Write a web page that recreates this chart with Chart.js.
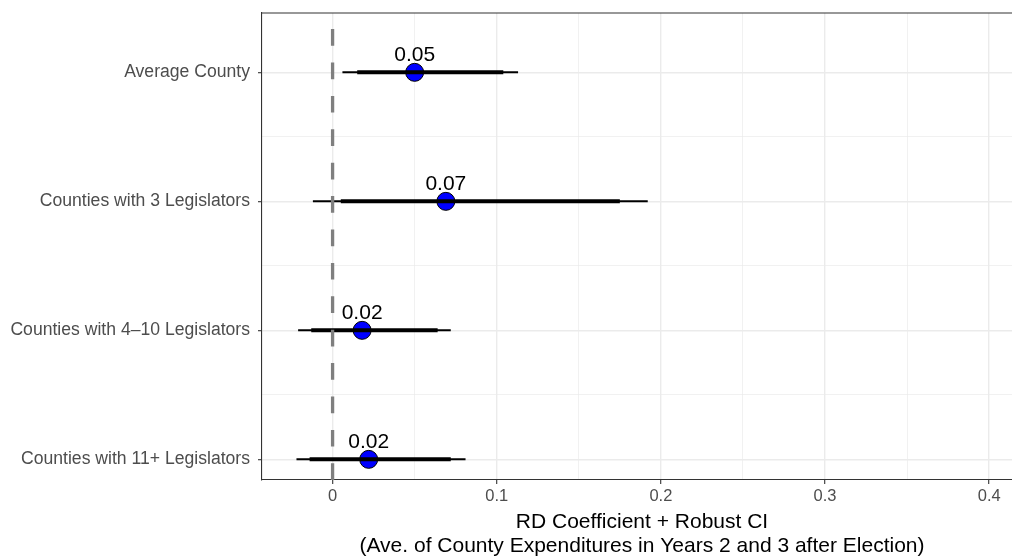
<!DOCTYPE html>
<html>
<head>
<meta charset="utf-8">
<script src="https://cdn.jsdelivr.net/npm/chart.js@4.4.1/dist/chart.umd.min.js"></script>
<style>
  html, body { margin: 0; padding: 0; background: #fff; overflow: hidden; }
  #wrap { width: 1012px; height: 556px; overflow: hidden; position: relative; }
  #chart { position: absolute; left: 0; top: 0; width: 1022px; height: 556px; }
</style>
</head>
<body>
<!-- the panel runs a little past the right edge of the picture, as in the original -->
<div id="wrap"><canvas id="chart" width="1022" height="556"></canvas></div>
<script>
// rows, top to bottom
const categories = [
  "Average County",
  "Counties with 3 Legislators",
  "Counties with 4\u201310 Legislators",
  "Counties with 11+ Legislators"
];
const estimate   = [0.050, 0.069, 0.018, 0.022];
const thickLow   = [0.015, 0.005, -0.013, -0.014];
const thickHigh  = [0.104, 0.175, 0.064, 0.072];
const thinLow    = [0.006, -0.012, -0.021, -0.022];
const thinHigh   = [0.113, 0.192, 0.072, 0.081];
const xGrid      = [0, 0.05, 0.1, 0.15, 0.2, 0.25, 0.3, 0.35, 0.4];
const yGrid      = [1, 1.5, 2, 2.5, 3, 3.5, 4];

const X_MIN = -0.043, X_MAX = 0.42;
const Y_MIN = 0.54, Y_MAX = 4.16;
const FONT = "'Liberation Sans', Arial, sans-serif";

const isMajorX = v => Math.abs(v * 10 - Math.round(v * 10)) < 1e-9;
const isMajorY = v => Math.abs(v - Math.round(v)) < 1e-9;

// value labels above the points
const valueLabels = {
  id: "valueLabels",
  afterDatasetsDraw(chart) {
    const { ctx, scales: { x, y } } = chart;
    ctx.save();
    ctx.font = "21px " + FONT;
    ctx.fillStyle = "#000";
    ctx.textAlign = "center";
    ctx.textBaseline = "alphabetic";
    estimate.forEach((v, i) => {
      ctx.fillText(v.toFixed(2), x.getPixelForValue(v), y.getPixelForValue(i + 1) - 11);
    });
    ctx.restore();
  }
};

// top edge of the panel border
const frame = {
  id: "frame",
  afterDraw(chart) {
    const { ctx, chartArea: a } = chart;
    ctx.save();
    ctx.strokeStyle = "#333";
    ctx.lineWidth = 1.1;
    ctx.beginPath();
    ctx.moveTo(a.left, a.top);
    ctx.lineTo(a.right, a.top);
    ctx.stroke();
    ctx.restore();
  }
};

const datasets = [];
datasets.push({
  data: [{ x: 0, y: Y_MAX }, { x: 0, y: Y_MIN }],
  showLine: true, borderColor: "#7f7f7f", borderWidth: 3.3,
  borderDash: [16.7, 16.7], pointRadius: 0
});
categories.forEach((c, i) => {
  datasets.push({
    data: [{ x: thinLow[i], y: i + 1 }, { x: thinHigh[i], y: i + 1 }],
    showLine: true, borderColor: "#000", borderWidth: 2, pointRadius: 0
  });
});
categories.forEach((c, i) => {
  datasets.push({
    data: [{ x: thickLow[i], y: i + 1 }, { x: thickHigh[i], y: i + 1 }],
    showLine: true, borderColor: "#000", borderWidth: 4, pointRadius: 0
  });
});
datasets.push({
  data: estimate.map((v, i) => ({ x: v, y: i + 1 })),
  showLine: false, pointRadius: 9, pointBackgroundColor: "#0000ff",
  pointBorderColor: "#000", pointBorderWidth: 1
});

new Chart(document.getElementById("chart"), {
  type: "scatter",
  data: { datasets },
  options: {
    responsive: false,
    animation: false,
    events: [],
    layout: { autoPadding: false, padding: { top: 13, left: 0, right: 0, bottom: 0 } },
    plugins: { legend: { display: false }, tooltip: { enabled: false } },
    scales: {
      x: {
        type: "linear", min: X_MIN, max: X_MAX,
        afterBuildTicks: s => { s.ticks = xGrid.map(v => ({ value: v })); },
        afterFit: s => { s.height = 76; },
        ticks: {
          autoSkip: false, maxRotation: 0, padding: 3,
          color: "#4d4d4d", font: { family: FONT, size: 16.5 },
          callback: v => isMajorX(v) ? String(+v.toFixed(1)) : ""
        },
        grid: {
          color: "#ebebeb",
          lineWidth: c => isMajorX(c.tick.value) ? 1.4 : 0.7,
          tickColor: c => isMajorX(c.tick.value) ? "#333" : "rgba(0,0,0,0)",
          tickWidth: 1.1, tickLength: 4
        },
        border: { color: "#333", width: 1.1 },
        title: {
          display: true,
          text: ["RD Coefficient + Robust CI", "(Ave. of County Expenditures in Years 2 and 3 after Election)"],
          color: "#000", font: { family: FONT, size: 21, lineHeight: 1.15 },
          padding: { top: 0, bottom: -2 }
        }
      },
      y: {
        type: "linear", reverse: true, min: Y_MIN, max: Y_MAX,
        afterBuildTicks: s => { s.ticks = yGrid.map(v => ({ value: v })); },
        afterFit: s => { s.width = 262; s.paddingTop = 0; s.paddingBottom = 0; },
        ticks: {
          autoSkip: false, padding: 8,
          color: "#4d4d4d", font: { family: FONT, size: 17.6 },
          callback: v => isMajorY(v) ? categories[Math.round(v) - 1] : ""
        },
        grid: {
          color: "#ebebeb",
          lineWidth: c => isMajorY(c.tick.value) ? 1.4 : 0.7,
          tickColor: c => isMajorY(c.tick.value) ? "#333" : "rgba(0,0,0,0)",
          tickWidth: 1.1, tickLength: 4
        },
        border: { color: "#333", width: 1.1 }
      }
    }
  },
  plugins: [valueLabels, frame]
});
</script>
</body>
</html>
